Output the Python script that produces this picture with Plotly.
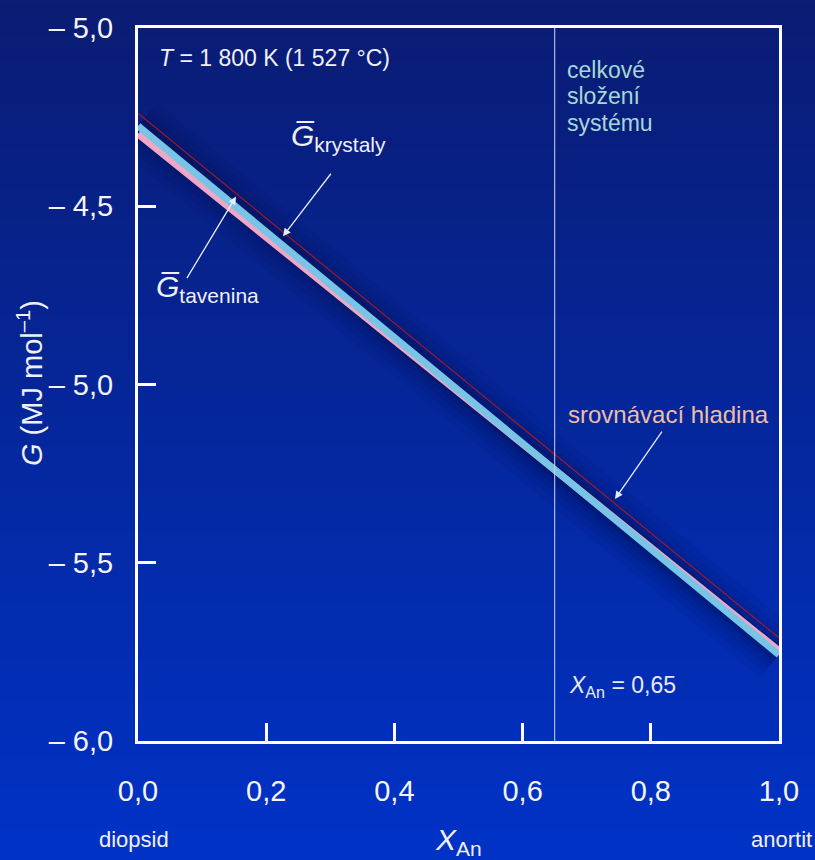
import plotly.graph_objects as go

# ---- data ----
x_pts = [0.0, 0.65, 1.0]
g_krystaly = [-4.275, -5.240, -5.758]
g_tavenina = [-4.297, -5.240, -5.747]
g_ref = [-4.239, -5.196, -5.711]
x_system = 0.65

x_tickvals = [0.0, 0.2, 0.4, 0.6, 0.8, 1.0]
x_ticktext = ["0,0", "0,2", "0,4", "0,6", "0,8", "1,0"]
y_tickvals = [-6.0, -5.5, -5.0, -4.5, -4.0]
y_ticktext = ["\u2013 6,0", "\u2013 5,5", "\u2013 5,0", "\u2013 4,5", "\u2013 5,0"]
system_lines = ["celkov\u00e9", "slo\u017een\u00ed", "syst\u00e9mu"]

FONT = "Liberation Sans, Arial, sans-serif"
W, H = 815, 860
L, R, T, B = 138, 36, 22, 119

fig = go.Figure()

# soft dark halo under the band
for w, a in [(60, 0.05), (46, 0.06), (34, 0.08), (24, 0.10), (16, 0.14)]:
    fig.add_trace(go.Scatter(x=x_pts, y=g_krystaly, mode="lines",
                             line=dict(color=f"rgba(0,8,50,{a})", width=w),
                             hoverinfo="skip", showlegend=False))

fig.add_trace(go.Scatter(x=x_pts, y=g_ref, mode="lines",
                         line=dict(color="#a0182e", width=1.2), showlegend=False))
fig.add_trace(go.Scatter(x=x_pts, y=g_tavenina, mode="lines",
                         line=dict(color="#f2a6c6", width=7), showlegend=False))
fig.add_trace(go.Scatter(x=x_pts, y=g_krystaly, mode="lines",
                         line=dict(color="#78c4e6", width=7), showlegend=False))

# background gradient
shapes = []
n = 60
top = (10, 28, 116)
bot = (0, 50, 198)
y0p, y1p = (H - B - H) / (H - T - B), (H - B) / (H - T - B)
x0p, x1p = -L / (W - L - R), (W - L) / (W - L - R)
for i in range(n):
    f = i / (n - 1)
    c = tuple(int(round(top[k] + (bot[k] - top[k]) * f)) for k in range(3))
    ya = y1p - (y1p - y0p) * i / n
    yb = y1p - (y1p - y0p) * (i + 1) / n
    shapes.append(dict(type="rect", xref="paper", yref="paper", layer="below",
                       x0=x0p, x1=x1p, y0=yb - 0.002, y1=ya + 0.002,
                       line=dict(width=0), fillcolor=f"rgb{c}"))
# vertical line for system composition
shapes.append(dict(type="line", xref="x", yref="paper", x0=x_system, x1=x_system,
                   y0=0, y1=1, line=dict(color="rgba(200,210,240,0.85)", width=1.2)))

def ypx(py):
    return -4.0 - (py - T) / ((H - T - B) / 2.0)

def xpx(px):
    return (px - L) / (W - L - R)

ann = []
white = "#ffffff"
ann.append(dict(x=xpx(157), y=ypx(52), xref="x", yref="y", xanchor="left", yanchor="middle",
                text="<i>T</i> = 1 800 K (1 527 \u00b0C)", showarrow=False,
                font=dict(size=23, color="#f0f0f8", family=FONT)))
for i, s in enumerate(system_lines):
    ann.append(dict(x=xpx(565), y=ypx(64 + 27 * i), xref="x", yref="y", xanchor="left",
                    yanchor="middle", text=s, showarrow=False,
                    font=dict(size=23, color="#a6d8d4", family=FONT)))
ann.append(dict(x=xpx(567), y=ypx(686), xref="x", yref="y", xanchor="left", yanchor="middle",
                text="<i>X</i><sub>An</sub> = 0,65", showarrow=False,
                font=dict(size=23, color="#e8e8f4", family=FONT)))
ann.append(dict(x=xpx(566), y=ypx(412), xref="x", yref="y", xanchor="left", yanchor="middle",
                text="srovn\u00e1vac\u00ed hladina", showarrow=False,
                font=dict(size=24, color="#eebda6", family=FONT)))
# arrows
ann.append(dict(x=xpx(615), y=ypx(497), xref="x", yref="y", ax=48, ay=-69,
                showarrow=True, arrowhead=2, arrowsize=1.2, arrowwidth=1.3,
                arrowcolor="#e8ecf8", text=""))
ann.append(dict(x=xpx(283), y=ypx(232), xref="x", yref="y", ax=49, ay=-64,
                showarrow=True, arrowhead=2, arrowsize=1.2, arrowwidth=1.3,
                arrowcolor="#e8ecf8", text=""))
ann.append(dict(x=xpx(236), y=ypx(192), xref="x", yref="y", ax=-50, ay=83,
                showarrow=True, arrowhead=2, arrowsize=1.2, arrowwidth=1.3,
                arrowcolor="#e8ecf8", text=""))
ann.append(dict(x=xpx(289), y=ypx(132), xref="x", yref="y", xanchor="left", yanchor="middle",
                text="<i>G\u0305</i><sub>krystaly</sub>", showarrow=False,
                font=dict(size=30, color="#f0f0f8", family=FONT)))
ann.append(dict(x=xpx(154), y=ypx(285), xref="x", yref="y", xanchor="left", yanchor="middle",
                text="<i>G\u0305</i><sub>tavenina</sub>", showarrow=False,
                font=dict(size=30, color="#f0f0f8", family=FONT)))
# axis labels
ph = H - T - B
ann.append(dict(x=xpx(30), y=(H - B - 380) / ph, xref="paper", yref="paper",
                text="<i>G</i> (MJ mol<sup>\u20131</sup>)", textangle=-90, showarrow=False,
                xanchor="center", yanchor="middle",
                font=dict(size=29, color="#f0f0f8", family=FONT)))
ann.append(dict(x=xpx(134), y=(H - B - 840) / ph, xref="paper", yref="paper",
                text="diopsid", showarrow=False, xanchor="center", yanchor="middle",
                font=dict(size=22, color="#f0f0f8", family=FONT)))
ann.append(dict(x=xpx(781), y=(H - B - 840) / ph, xref="paper", yref="paper",
                text="anortit", showarrow=False, xanchor="center", yanchor="middle",
                font=dict(size=22, color="#f0f0f8", family=FONT)))
ann.append(dict(x=xpx(458), y=(H - B - 842) / ph, xref="paper", yref="paper",
                text="<i>X</i><sub>An</sub>", showarrow=False, xanchor="center", yanchor="middle",
                font=dict(size=30, color="#f0f0f8", family=FONT)))

fig.update_layout(
    width=W, height=H,
    margin=dict(l=L, r=R, t=T, b=B),
    paper_bgcolor="#0a1e78",
    plot_bgcolor="rgba(0,0,0,0)",
    shapes=shapes, annotations=ann,
    showlegend=False,
    font=dict(family=FONT, color="#ffffff"),
)
axis_common = dict(showgrid=False, zeroline=False, showline=True, mirror=True,
                   linecolor=white, linewidth=3, ticks="inside", ticklen=18,
                   tickwidth=3, tickcolor=white,
                   tickfont=dict(size=29, color="#f4f4fa", family=FONT))
fig.update_xaxes(range=[0, 1], tickvals=x_tickvals, ticktext=x_ticktext,
                 ticklabelstandoff=22, **axis_common)
fig.update_yaxes(range=[-6, -4], tickvals=y_tickvals, ticktext=y_ticktext,
                 ticklabelstandoff=16, **axis_common)

fig.write_html("out.html")
